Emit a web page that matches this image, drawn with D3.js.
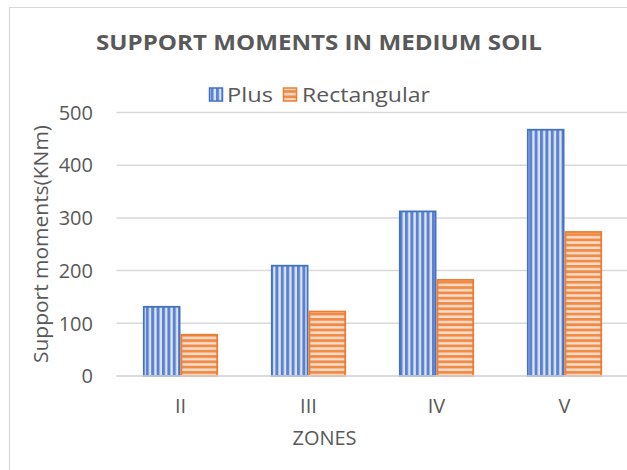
<!DOCTYPE html>
<html><head><meta charset="utf-8">
<script src="https://cdn.jsdelivr.net/npm/d3@7"></script>
<style>body{margin:0;background:#fff}svg{display:block}</style>
</head><body>
<svg id="c" width="627" height="470"></svg>
<script>
const categories = ["II", "III", "IV", "V"];
const seriesNames = ["Plus", "Rectangular"];
const plusValues = [133, 211, 314, 469];
const rectValues = [80, 124, 184, 275];
const yTicks = [0, 100, 200, 300, 400, 500];
const titleText = "SUPPORT MOMENTS IN MEDIUM SOIL";
const xTitle = "ZONES";
const yTitle = "Support moments(KNm)";

(function () {
const svg = d3.select("#c");
const font = "'Open Sans', sans-serif";
const txt = "#595959";
const grid = "#d9d9d9";

// frame
svg.append("path").attr("d", "M9.5,470 V7.5 H627").attr("fill", "none").attr("stroke", grid).attr("stroke-width", 1.2);

// patterns
const defs = svg.append("defs");
const pv = defs.append("pattern").attr("id", "pv").attr("patternUnits", "userSpaceOnUse").attr("width", 5.4).attr("height", 10);
pv.append("rect").attr("width", 5.4).attr("height", 10).attr("fill", "#dbe4f5");
pv.append("rect").attr("width", 3).attr("height", 10).attr("fill", "#5a82d0");
const ph = defs.append("pattern").attr("id", "ph").attr("patternUnits", "userSpaceOnUse").attr("width", 10).attr("height", 5.3);
ph.append("rect").attr("width", 10).attr("height", 5.3).attr("fill", "#fbdcc8");
ph.append("rect").attr("width", 10).attr("height", 2.8).attr("fill", "#f08c4a");

const pLeft = 116.5, pRight = 628.5, pTop = 112.5, pBottom = 376;
const x = d3.scaleBand().domain(categories).range([pLeft, pRight]).paddingInner(0.4125).paddingOuter(0.20625);
const xs = d3.scaleBand().domain(seriesNames).range([0, x.bandwidth()]);
const y = d3.scaleLinear().domain([0, 500]).range([pBottom, pTop]);

// gridlines
svg.append("g").selectAll("line").data(yTicks).join("line")
  .attr("x1", pLeft).attr("x2", 627).attr("y1", d => y(d)).attr("y2", d => y(d))
  .attr("stroke", grid).attr("stroke-width", 1.5);

// y tick labels
svg.append("g").selectAll("text").data(yTicks).join("text")
  .attr("x", 93).attr("y", d => y(d)).attr("dy", "0.36em").attr("text-anchor", "end")
  .attr("font-family", font).attr("font-size", 20).attr("fill", txt).text(d => d);

// bars
const series = [
  {name: "Plus", values: plusValues, fill: "url(#pv)", stroke: "#4472c4"},
  {name: "Rectangular", values: rectValues, fill: "url(#ph)", stroke: "#ed7d31"}
];
series.forEach(s => {
  svg.append("g").selectAll("rect").data(categories).join("rect")
    .attr("x", (c) => x(c) + xs(s.name) + 0.9)
    .attr("width", xs.bandwidth() - 1.8)
    .attr("y", (c, i) => y(s.values[i]) + 0.9)
    .attr("height", (c, i) => pBottom - y(s.values[i]) - 0.9)
    .attr("fill", s.fill).attr("stroke", s.stroke).attr("stroke-width", 1.8);
});

// x axis line
svg.append("line").attr("x1", pLeft).attr("x2", 627).attr("y1", pBottom).attr("y2", pBottom).attr("stroke", grid).attr("stroke-width", 1.5);

// x labels
svg.append("g").selectAll("text").data(categories).join("text")
  .attr("x", d => x(d) + x.bandwidth() / 2).attr("y", 413)
  .attr("text-anchor", "middle").attr("font-family", font).attr("font-size", 20).attr("fill", txt).text(d => d);

// axis titles
svg.append("text").attr("x", 324.5).attr("y", 445).attr("text-anchor", "middle")
  .attr("font-family", font).attr("font-size", 20).attr("fill", txt)
  .attr("textLength", 64).attr("lengthAdjust", "spacingAndGlyphs").text(xTitle);
svg.append("text").attr("transform", "translate(48,244) rotate(-90)").attr("text-anchor", "middle")
  .attr("font-family", font).attr("font-size", 20).attr("fill", txt)
  .attr("textLength", 238).attr("lengthAdjust", "spacingAndGlyphs").text(yTitle);

// title
svg.append("text").attr("x", 319).attr("y", 49.5).attr("text-anchor", "middle")
  .attr("font-family", font).attr("font-weight", "bold").attr("font-size", 20.5).attr("fill", txt)
  .attr("textLength", 446).attr("lengthAdjust", "spacingAndGlyphs").text(titleText);

// legend
const legendItems = [
  {name: seriesNames[0], fill: "url(#pv)", stroke: "#4472c4", sx: 209.5, tx: 227, tl: 46},
  {name: seriesNames[1], fill: "url(#ph)", stroke: "#ed7d31", sx: 283.5, tx: 302, tl: 128}
];
const lg = svg.append("g");
legendItems.forEach(it => {
  lg.append("rect").attr("x", it.sx).attr("y", 88).attr("width", 13).attr("height", 13)
    .attr("fill", it.fill).attr("stroke", it.stroke).attr("stroke-width", 1.5);
  lg.append("text").attr("x", it.tx).attr("y", 101.5).attr("font-family", font).attr("font-size", 20)
    .attr("fill", txt).attr("textLength", it.tl).attr("lengthAdjust", "spacingAndGlyphs").text(it.name);
});
})();
</script>
</body></html>
